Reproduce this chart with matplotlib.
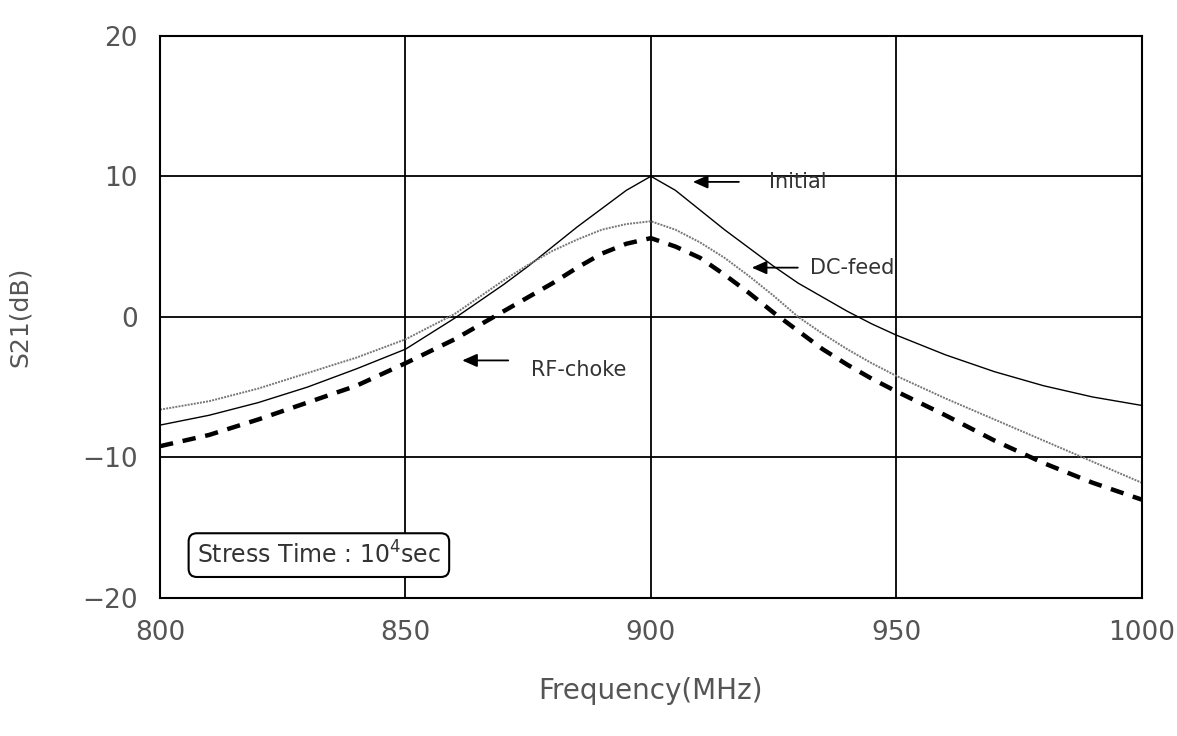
import matplotlib
matplotlib.use("Agg")
import matplotlib.pyplot as plt

# frequency points (MHz)
freq = [800, 810, 820, 830, 840, 850, 860, 870, 875, 880, 885, 890, 895, 900,
        905, 910, 915, 920, 925, 930, 935, 940, 945, 950, 960, 970, 980, 990, 1000]

# S21 (dB)
s21_initial = [-7.7, -7.0, -6.1, -5.0, -3.7, -2.3, -0.1, 2.3, 3.6, 5.0, 6.4, 7.7, 9.0, 10.0,
               9.0, 7.6, 6.2, 4.9, 3.6, 2.4, 1.4, 0.4, -0.5, -1.3, -2.7, -3.9, -4.9, -5.7, -6.3]
s21_dcfeed = [-6.6, -6.0, -5.1, -4.0, -2.9, -1.6, 0.2, 2.6, 3.7, 4.7, 5.5, 6.2, 6.6, 6.8,
              6.2, 5.3, 4.2, 2.9, 1.5, 0.0, -1.2, -2.3, -3.3, -4.2, -5.8, -7.3, -8.8, -10.3, -11.8]
s21_rfchoke = [-9.2, -8.4, -7.3, -6.1, -4.9, -3.3, -1.6, 0.4, 1.4, 2.4, 3.5, 4.5, 5.2, 5.6,
               5.0, 4.2, 3.0, 1.7, 0.3, -1.0, -2.3, -3.4, -4.4, -5.3, -7.0, -8.8, -10.4, -11.8, -13.0]

x_ticks = [800, 850, 900, 950, 1000]
y_ticks = [-20, -10, 0, 10, 20]

plt.rcParams['font.family'] = ['DejaVu Sans']

fig = plt.figure(figsize=(11.77, 7.36), dpi=100)
ax = fig.add_axes([0.136, 0.1875, 0.834, 0.764])

ax.plot(freq, s21_initial, color='black', lw=1.0)
ax.plot(freq, s21_dcfeed, color='#777777', lw=1.4, linestyle=(0, (1, 0.6)))
ax.plot(freq, s21_rfchoke, color='black', lw=3.2, linestyle=(0, (3, 2.2)))

ax.set_xlim(800, 1000)
ax.set_ylim(-20, 20)
ax.set_xticks(x_ticks)
ax.set_yticks(y_ticks)
ax.grid(True, color='black', lw=1.3)
for s in ax.spines.values():
    s.set_linewidth(1.5)
ax.tick_params(length=0, pad=16, labelsize=19, colors='#555555')

ax.set_xlabel('Frequency(MHz)', fontsize=20, color='#555555', labelpad=22)
ax.set_ylabel('S21(dB)', fontsize=18, color='#555555', labelpad=36)

arrow = dict(arrowstyle='-|>,head_length=0.9,head_width=0.4', color='black', lw=1.3)
ax.annotate('', xy=(908, 9.6), xytext=(918.5, 9.6), arrowprops=arrow)
ax.text(924, 9.6, 'Initial', fontsize=15, va='center', color='#333333')
ax.annotate('', xy=(920, 3.5), xytext=(930.5, 3.5), arrowprops=arrow)
ax.text(932.5, 3.5, 'DC-feed', fontsize=15, va='center', color='#333333')
ax.annotate('', xy=(861, -3.1), xytext=(871.5, -3.1), arrowprops=arrow)
ax.text(875.5, -3.8, 'RF-choke', fontsize=15, va='center', color='#333333')

ax.text(807.5, -16.95, r'Stress Time : 10$^4$sec', fontsize=17, va='center', color='#333333',
        bbox=dict(boxstyle='round,pad=0.35', fc='white', ec='black', lw=1.5))

fig.savefig('out.png', dpi=100)
